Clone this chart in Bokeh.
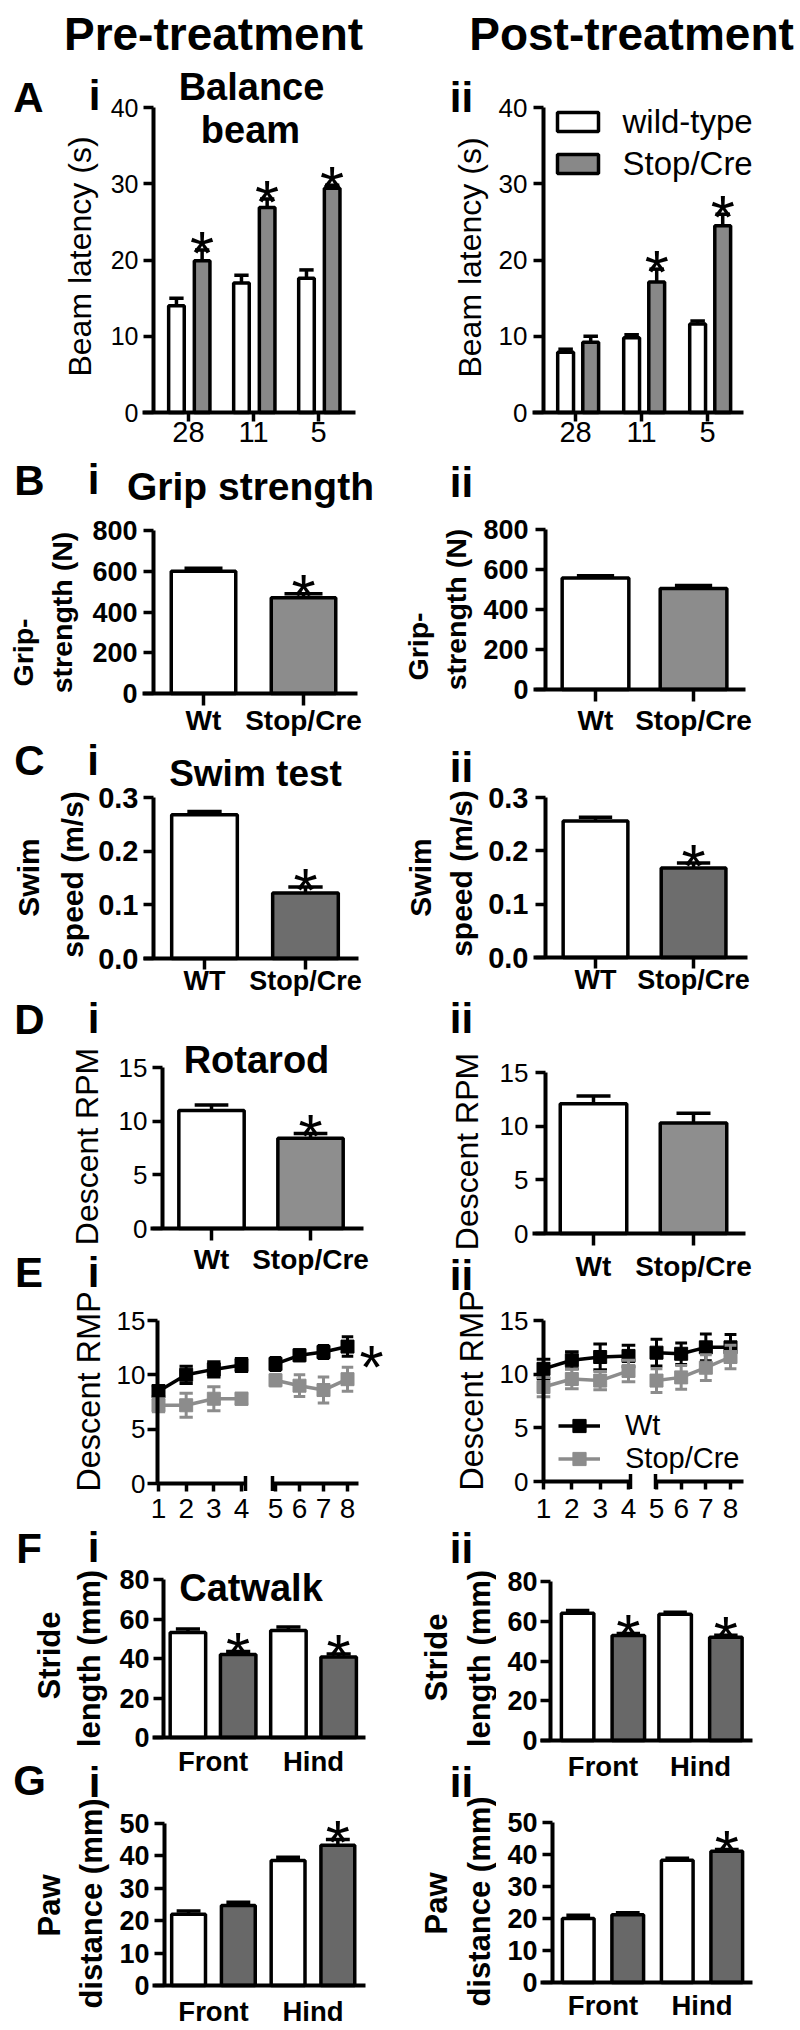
import math
from bokeh.plotting import figure
from bokeh.models import (Range1d, FixedTicker, Label, Legend, LegendItem, BoxAnnotation,
                          PrintfTickFormatter, ColumnDataSource, LinearAxis)
from bokeh.layouts import row, column
from bokeh.embed import file_html
from bokeh.resources import INLINE
from bokeh.core.properties import value

FONT = "Liberation Sans"
ROT = math.pi / 2

# ---------------- data ----------------
# A  Balance beam latency (s) on 28, 11 and 5 mm beams
beam_widths = ["28", "11", "5"]
beam_pre_wt = [14.0, 17.0, 17.6]
beam_pre_wt_sem = [1.0, 1.0, 1.1]
beam_pre_sc = [19.9, 26.9, 29.4]
beam_pre_sc_sem = [1.4, 1.1, 0.4]
beam_pre_sig = [True, True, True]
beam_post_wt = [7.9, 9.8, 11.6]
beam_post_wt_sem = [0.4, 0.4, 0.4]
beam_post_sc = [9.2, 17.1, 24.5]
beam_post_sc_sem = [0.8, 1.7, 1.5]
beam_post_sig = [False, True, True]

# B  Grip strength (N)
grip_groups = ["Wt", "Stop/Cre"]
grip_pre = [600, 470]
grip_pre_sem = [15, 20]
grip_pre_sig = [False, True]
grip_post = [557, 505]
grip_post_sem = [12, 15]
grip_post_sig = [False, False]

# C  Swim speed (m/s)
swim_groups = ["WT", "Stop/Cre"]
swim_pre = [0.268, 0.122]
swim_pre_sem = [0.006, 0.011]
swim_pre_sig = [False, True]
swim_post = [0.256, 0.168]
swim_post_sem = [0.007, 0.009]
swim_post_sig = [False, True]

# D  Rotarod descent RPM
rota_groups = ["Wt", "Stop/Cre"]
rota_pre = [11.0, 8.4]
rota_pre_sem = [0.5, 0.45]
rota_pre_sig = [False, True]
rota_post = [12.1, 10.3]
rota_post_sem = [0.7, 0.9]
rota_post_sig = [False, False]

# E  Rotarod per trial day (days 1-4 and 5-8 on a broken axis)
days = [1, 2, 3, 4, 5, 6, 7, 8]
rod_pre_wt = [8.5, 10.0, 10.5, 10.9, 11.0, 11.8, 12.1, 12.6]
rod_pre_wt_sem = [0.5, 0.8, 0.7, 0.6, 0.6, 0.5, 0.6, 0.9]
rod_pre_sc = [7.2, 7.2, 7.8, 7.8, 9.5, 9.0, 8.6, 9.6]
rod_pre_sc_sem = [0.6, 1.1, 1.1, 0.5, 0.5, 1.0, 1.2, 1.1]
rod_post_wt = [10.5, 11.3, 11.6, 11.7, 12.0, 11.9, 12.5, 12.5]
rod_post_wt_sem = [0.9, 0.8, 1.2, 1.0, 1.25, 1.0, 1.25, 1.2]
rod_post_sc = [8.8, 9.55, 9.4, 10.3, 9.4, 9.7, 10.6, 11.6]
rod_post_sc_sem = [0.9, 0.9, 0.85, 1.0, 1.1, 1.1, 1.2, 1.1]

# F  Catwalk stride length (mm)
paw_sides = ["Front", "Hind"]
stride_pre_wt = [53.2, 54.2]
stride_pre_wt_sem = [1.8, 1.8]
stride_pre_sc = [42.0, 40.8]
stride_pre_sc_sem = [1.5, 1.5]
stride_pre_sig = [True, True]
stride_post_wt = [64.0, 63.5]
stride_post_wt_sem = [1.4, 1.0]
stride_post_sc = [52.8, 52.0]
stride_post_sc_sem = [1.0, 1.0]
stride_post_sig = [True, True]

# G  Paw distance (mm)
pawd_pre_wt = [22.0, 38.6]
pawd_pre_wt_sem = [1.0, 1.0]
pawd_pre_sc = [24.7, 43.3]
pawd_pre_sc_sem = [1.0, 1.8]
pawd_pre_sig = [False, True]
pawd_post_wt = [20.0, 38.2]
pawd_post_wt_sem = [1.0, 0.6]
pawd_post_sc = [21.2, 41.0]
pawd_post_sc_sem = [0.6, 0.6]
pawd_post_sig = [False, True]

GRAY_A = "#888888"
GRAY_B = "#8c8c8c"
GRAY_C = "#6d6d6d"
GRAY_D = "#8e8e8e"
GRAY_E = "#8c8c8c"
GRAY_FG = "#686868"

STAR_FS = 62
STAR_DY = 2


# ---------------- helpers ----------------
class Panel:
    """A figure whose frame is the whole canvas.  `box` (page px) is where the
    data rectangle xr x yr lies; axes are pinned there with fixed_location."""
    def __init__(self, region, box=None, xr=(0, 1), yr=(0, 1)):
        x0, y0, x1, y1 = region
        self.region = region
        if box is None:
            box = region
        bl, bt, br, bb = box
        self.xr, self.yr = xr, yr
        kx = (xr[1] - xr[0]) / (br - bl)
        ky = (yr[1] - yr[0]) / (bb - bt)
        self.dx = lambda px: xr[0] + (px - bl) * kx
        self.dy = lambda py: yr[0] + (bb - py) * ky
        kw = dict(width=x1 - x0, height=y1 - y0,
                  x_range=Range1d(self.dx(x0), self.dx(x1)),
                  y_range=Range1d(self.dy(y1), self.dy(y0)),
                  output_backend="svg", toolbar_location=None,
                  min_border_left=0, min_border_right=0,
                  min_border_top=0, min_border_bottom=0,
                  outline_line_color=None, background_fill_color="white",
                  border_fill_color="white")
        if region == box:
            kw.update(x_axis_location=None, y_axis_location=None)
        self.p = figure(**kw)
        self.p.xgrid.visible = False
        self.p.ygrid.visible = False


def put(panel, x, y, text, size, bold=False, align="center", baseline="alphabetic", angle=0.0):
    """Place a text at page position; for 'alphabetic' y is the baseline, which is
    converted to the cap-height centre and drawn with a 'middle' baseline."""
    x0, y0, x1, y1 = panel.region
    if baseline == "alphabetic":
        y = y - 0.358 * size
        baseline = "middle"
    panel.p.add_layout(Label(
        x=x - x0, y=y1 - y, x_units="screen", y_units="screen", text=text,
        text_font=FONT, text_font_size=f"{size}px",
        text_font_style="bold" if bold else "normal", text_color="black",
        text_align=align, text_baseline=baseline, angle=angle))


def box(panel, bx0, by0, bx1, by1, fill):
    x0, y0, x1, y1 = panel.region
    panel.p.add_layout(BoxAnnotation(
        left=bx0 - x0, right=bx1 - x0, top=y1 - by0, bottom=y1 - by1,
        left_units="screen", right_units="screen", top_units="screen", bottom_units="screen",
        fill_color=fill, fill_alpha=1.0, line_color="black", line_alpha=1.0, line_width=3.5))


def style_axis(ax, fs, bold, tick_out, standoff, line=True, ticks=True):
    ax.axis_line_width = 4
    ax.axis_line_color = "black" if line else None
    ax.major_tick_line_width = 3.5
    ax.major_tick_line_color = "black" if ticks else None
    ax.major_tick_out = tick_out if ticks else 0
    ax.major_tick_in = 0
    ax.minor_tick_line_color = None
    ax.major_label_text_font = FONT
    ax.major_label_text_font_size = f"{fs}px"
    ax.major_label_text_font_style = "bold" if bold else "normal"
    ax.major_label_text_color = "black"
    ax.major_label_standoff = standoff


def setup(panel, xticks, xlabels, yticks, yfs, ybold, ystand, xfs, xbold, xstand,
          xleft_px, xtick_out=10, xticks_on=True, yfmt=None):
    p = panel.p
    xa = p.xaxis[0]
    ya = p.yaxis[0]
    ya.fixed_location = panel.xr[0]
    ya.bounds = (panel.yr[0], panel.yr[1])
    xa.fixed_location = panel.yr[0]
    xa.bounds = (panel.dx(xleft_px), panel.xr[1])
    xa.ticker = FixedTicker(ticks=list(xticks))
    if xlabels is not None:
        xa.major_label_overrides = {t: lab for t, lab in zip(xticks, xlabels)}
    ya.ticker = FixedTicker(ticks=list(yticks))
    if yfmt:
        ya.formatter = PrintfTickFormatter(format=yfmt)
    style_axis(ya, yfs, ybold, 10, ystand)
    style_axis(xa, xfs, xbold, xtick_out, xstand, True, xticks_on)


def bar_series(p, xs, tops, sems, fills, width, cap, sig=None):
    ends = [t + s for t, s in zip(tops, sems)]
    if isinstance(fills, str):
        fills = [fills] * len(xs)
    src = ColumnDataSource(dict(x=xs, top=tops, end=ends, fill=fills,
                                l=[x - cap / 2 for x in xs], r=[x + cap / 2 for x in xs]))
    p.segment(x0="x", y0="top", x1="x", y1="end", source=src, line_color="black", line_width=3.5)
    p.segment(x0="l", y0="end", x1="r", y1="end", source=src, line_color="black", line_width=3.5)
    rend = p.vbar(x="x", top="top", bottom=0, width=width, source=src,
                  fill_color="fill", line_color="black", line_width=3.5)
    if sig:
        sx = [x for x, g in zip(xs, sig) if g]
        sy = [e for e, g in zip(ends, sig) if g]
        if sx:
            p.text(x=sx, y=sy, text=["*"] * len(sx), text_font=value(FONT),
                   text_font_size=value(f"{STAR_FS}px"), text_align="center",
                   text_baseline="middle", text_color="black", y_offset=STAR_DY)
    return rend


def rod_panel(panel, wt, wt_sem, sc, sc_sem, gray, seg1_end_px, p5_px, slope2,
              seg2_px, yfs, ystand, xfs, xstand):
    """Broken x axis: days 1-4 on the main range, days 5-8 on range 'seg2'."""
    p = panel.p
    x0, y0, x1, y1 = panel.region
    v2 = lambda px: 5 + (px - p5_px) / slope2
    p.extra_x_ranges = {"seg2": Range1d(v2(x0), v2(x1))}
    ax1 = p.xaxis[0]
    ax2 = LinearAxis(x_range_name="seg2")
    p.add_layout(ax2, "below")
    ax1.fixed_location = 0
    ax2.fixed_location = 0
    ax1.bounds = (panel.xr[0], panel.dx(seg1_end_px))
    ax2.bounds = (v2(seg2_px[0]), v2(seg2_px[1]))
    ax1.ticker = FixedTicker(ticks=days[:4])
    ax2.ticker = FixedTicker(ticks=days[4:])
    for ax in (ax1, ax2):
        style_axis(ax, xfs, False, 8, xstand)
    ya = p.yaxis[0]
    ya.fixed_location = panel.xr[0]
    ya.bounds = (0, 15)
    ya.ticker = FixedTicker(ticks=[0, 5, 10, 15])
    style_axis(ya, yfs, False, 10, ystand)
    # break caps at the inner ends of the two axis pieces
    p.segment(x0=[panel.dx(seg1_end_px)], y0=[-0.69], x1=[panel.dx(seg1_end_px)], y1=[0.69],
              line_color="black", line_width=3.5)
    p.segment(x0=[v2(seg2_px[0])], y0=[-0.69], x1=[v2(seg2_px[0])], y1=[0.69],
              line_color="black", line_width=3.5, x_range_name="seg2")
    out = {}
    for key, vals, sems, col in (("wt", wt, wt_sem, "black"), ("sc", sc, sc_sem, gray)):
        rends = []
        for a, b, rn in ((0, 4, "default"), (4, 8, "seg2")):
            d = days[a:b]
            v = vals[a:b]
            lo = [x - s for x, s in zip(v, sems[a:b])]
            hi = [x + s for x, s in zip(v, sems[a:b])]
            p.segment(x0=d, y0=lo, x1=d, y1=hi, line_color=col, line_width=3, x_range_name=rn)
            p.segment(x0=[q - 0.24 for q in d], y0=hi, x1=[q + 0.24 for q in d], y1=hi,
                      line_color=col, line_width=3, x_range_name=rn)
            p.segment(x0=[q - 0.24 for q in d], y0=lo, x1=[q + 0.24 for q in d], y1=lo,
                      line_color=col, line_width=3, x_range_name=rn)
            ln = p.line(d, v, line_color=col, line_width=3.5, x_range_name=rn)
            mk = p.scatter(d, v, marker="square", size=13, fill_color=col, line_color=col,
                           x_range_name=rn)
            rends.append((ln, mk))
        out[key] = list(rends[0])
    return out


# row boundaries (page px)
Y_AB, Y_BC, Y_CD, Y_END = 454, 736, 996, 2028

# ---------------- A: balance beam ----------------
gA = list(range(len(beam_widths)))
A1 = Panel((0, 0, 400, Y_AB), (153, 107, 355, 412), (-0.538, 2.569), (0, 40))
bar_series(A1.p, [g - 0.185 for g in gA], beam_pre_wt, beam_pre_wt_sem, "white", 0.24, 0.22)
bar_series(A1.p, [g + 0.21 for g in gA], beam_pre_sc, beam_pre_sc_sem, GRAY_A, 0.24, 0.22, beam_pre_sig)
setup(A1, gA, beam_widths, [0, 10, 20, 30, 40], 25, False, 5, 29, False, 0, 142, xtick_out=9)
put(A1, 213, 50, "Pre-treatment", 46, True)
put(A1, 28, 112, "A", 42, True)
put(A1, 94, 110, "i", 42, True)
put(A1, 251, 100, "Balance", 38, True)
put(A1, 250, 143, "beam", 38, True)
put(A1, 79, 256, "Beam latency (s)", 32, False, baseline="middle", angle=ROT)

A2 = Panel((400, 0, 800, Y_AB), (543, 107, 743, 412), (-0.485, 2.545), (0, 40))
bar_series(A2.p, [g - 0.15 for g in gA], beam_post_wt, beam_post_wt_sem, "white", 0.24, 0.22)
bar_series(A2.p, [g + 0.23 for g in gA], beam_post_sc, beam_post_sc_sem, GRAY_A, 0.24, 0.22, beam_post_sig)
setup(A2, gA, beam_widths, [0, 10, 20, 30, 40], 26, False, 6, 29, False, 0, 532, xtick_out=9)
put(A2, 631, 50, "Post-treatment", 46, True)
put(A2, 461, 112, "ii", 42, True)
put(A2, 469, 257, "Beam latency (s)", 32, False, baseline="middle", angle=ROT)
box(A2, 557, 112, 598, 131, "white")
box(A2, 557, 154, 598, 173, GRAY_A)
put(A2, 622, 121, "wild-type", 33, False, align="left", baseline="middle")
put(A2, 622, 163, "Stop/Cre", 33, False, align="left", baseline="middle")

# ---------------- B: grip strength ----------------
B1 = Panel((0, Y_AB, 400, Y_BC), (153, 530, 357, 693), (-0.5, 1.54), (0, 800))
bar_series(B1.p, [0, 1], grip_pre, grip_pre_sem, ["white", GRAY_B], 0.645, 0.38, grip_pre_sig)
setup(B1, [0, 1], grip_groups, [0, 200, 400, 600, 800], 27, True, 6, 28, True, -1, 142, xtick_out=12)
put(B1, 29, 495, "B", 42, True)
put(B1, 93, 494, "i", 42, True)
put(B1, 250, 500, "Grip strength", 39, True)
put(B1, 22, 652, "Grip-", 28.5, True, baseline="middle", angle=ROT)
put(B1, 61, 612, "strength (N)", 28.5, True, baseline="middle", angle=ROT)

B2 = Panel((400, Y_AB, 800, Y_BC), (545, 529, 745, 689), (-0.51, 1.53), (0, 800))
bar_series(B2.p, [0, 1], grip_post, grip_post_sem, ["white", GRAY_B], 0.68, 0.38, grip_post_sig)
setup(B2, [0, 1], grip_groups, [0, 200, 400, 600, 800], 27, True, 7, 28, True, 3, 533, xtick_out=12)
put(B2, 461, 497, "ii", 42, True)
put(B2, 417, 646, "Grip-", 28.5, True, baseline="middle", angle=ROT)
put(B2, 455, 609, "strength (N)", 28.5, True, baseline="middle", angle=ROT)

# ---------------- C: swim test ----------------
C1 = Panel((0, Y_BC, 400, Y_CD), (153, 797, 358, 958), (-0.505, 1.525), (0, 0.3))
bar_series(C1.p, [0, 1], swim_pre, swim_pre_sem, ["white", GRAY_C], 0.65, 0.34, swim_pre_sig)
setup(C1, [0, 1], swim_groups, [0, 0.1, 0.2, 0.3], 29, True, 5, 27, True, -4, 143, xtick_out=11,
      yfmt="%.1f")
put(C1, 29, 775, "C", 42, True)
put(C1, 92.5, 775, "i", 42, True)
put(C1, 255, 786, "Swim test", 37, True)
put(C1, 28, 877, "Swim", 30, True, baseline="middle", angle=ROT)
put(C1, 72, 874, "speed (m/s)", 30, True, baseline="middle", angle=ROT)

C2 = Panel((400, Y_BC, 800, Y_CD), (545, 797, 747, 957), (-0.51, 1.55), (0, 0.3))
bar_series(C2.p, [0, 1], swim_post, swim_post_sem, ["white", GRAY_C], 0.66, 0.34, swim_post_sig)
setup(C2, [0, 1], swim_groups, [0, 0.1, 0.2, 0.3], 29, True, 7, 27, True, -4, 533, xtick_out=11,
      yfmt="%.1f")
put(C2, 461, 782, "ii", 42, True)
put(C2, 420, 877, "Swim", 30, True, baseline="middle", angle=ROT)
put(C2, 461, 873, "speed (m/s)", 30, True, baseline="middle", angle=ROT)

# ---------------- D: rotarod ----------------
D1 = Panel((110, Y_CD, 400, 1290), (162, 1067, 363, 1228), (-0.495, 1.535), (0, 15))
bar_series(D1.p, [0, 1], rota_pre, rota_pre_sem, ["white", GRAY_D], 0.66, 0.34, rota_pre_sig)
setup(D1, [0, 1], rota_groups, [0, 5, 10, 15], 26, False, 5, 28, True, 3, 150, xtick_out=12)
put(D1, 256, 1073, "Rotarod", 38, True)

D2 = Panel((496, Y_CD, 800, 1290), (545, 1072, 745, 1233), (-0.48, 1.52), (0, 15))
bar_series(D2.p, [0, 1], rota_post, rota_post_sem, ["white", GRAY_D], 0.665, 0.34, rota_post_sig)
setup(D2, [0, 1], rota_groups, [0, 5, 10, 15], 26, False, 7, 28, True, 5, 532, xtick_out=12)

# ---------------- E: rotarod by day (broken axis) ----------------
E1 = Panel((110, 1290, 400, 1530), (157, 1320, 241, 1483), (0.964, 4.0), (0, 15))
rod_panel(E1, rod_pre_wt, rod_pre_wt_sem, rod_pre_sc, rod_pre_sc_sem, GRAY_E,
          245, 275, 24.0, (272, 358), 26, 2, 28, 7)
put(E1, 371, 1366, "*", STAR_FS, False, baseline="middle")

E2 = Panel((496, 1290, 800, 1530), (543, 1320, 628, 1481), (1.0, 4.0), (0, 15))
r2 = rod_panel(E2, rod_post_wt, rod_post_wt_sem, rod_post_sc, rod_post_sc_sem, GRAY_E,
               630, 656, 24.67, (655, 743), 26, 5, 28, 9)
legE = Legend(items=[LegendItem(label="Wt", renderers=r2["wt"]),
                     LegendItem(label="Stop/Cre", renderers=r2["sc"])],
              location=(558 - 496, 1530 - 1474.5), orientation="vertical",
              glyph_width=42, glyph_height=33, label_height=33, label_standoff=25,
              spacing=0, padding=0, margin=0, border_line_color=None,
              background_fill_alpha=0, label_text_font=FONT, label_text_font_size="29px",
              label_text_color="black")
E2.p.add_layout(legE)

# ---------------- F: catwalk stride length ----------------
gF = [0, 1]
F1 = Panel((110, 1530, 400, 1786), (163, 1579, 365, 1737), (-0.493, 1.517), (0, 80))
bar_series(F1.p, [g - 0.25 for g in gF], stride_pre_wt, stride_pre_wt_sem, "white", 0.353, 0.24)
bar_series(F1.p, [g + 0.25 for g in gF], stride_pre_sc, stride_pre_sc_sem, GRAY_FG, 0.353, 0.24, stride_pre_sig)
setup(F1, gF, paw_sides, [0, 20, 40, 60, 80], 27, True, 4, 27.5, True, 8, 152, xticks_on=False)
put(F1, 250.5, 1601, "Catwalk", 38, True)

F2 = Panel((496, 1530, 800, 1786), (550, 1581, 752, 1740), (-0.538, 1.533), (0, 80))
bar_series(F2.p, [g - 0.26 for g in gF], stride_post_wt, stride_post_wt_sem, "white", 0.333, 0.24)
bar_series(F2.p, [g + 0.26 for g in gF], stride_post_sc, stride_post_sc_sem, GRAY_FG, 0.333, 0.24, stride_post_sig)
setup(F2, gF, paw_sides, [0, 20, 40, 60, 80], 27, True, 3, 27.5, True, 10, 540, xticks_on=False)

# ---------------- G: paw distance ----------------
G1 = Panel((110, 1786, 400, Y_END), (164, 1823, 365, 1985), (-0.492, 1.528), (0, 50))
bar_series(G1.p, [g - 0.25 for g in gF], pawd_pre_wt, pawd_pre_wt_sem, "white", 0.34, 0.24)
bar_series(G1.p, [g + 0.25 for g in gF], pawd_pre_sc, pawd_pre_sc_sem, GRAY_FG, 0.34, 0.24, pawd_pre_sig)
setup(G1, gF, paw_sides, [0, 10, 20, 30, 40, 50], 27, True, 5, 27.5, True, 10, 152, xticks_on=False)

G2 = Panel((496, 1786, 800, Y_END), (552, 1822, 752, 1982), (-0.51, 1.51), (0, 50))
bar_series(G2.p, [g - 0.25 for g in gF], pawd_post_wt, pawd_post_wt_sem, "white", 0.32, 0.24)
bar_series(G2.p, [g + 0.25 for g in gF], pawd_post_sc, pawd_post_sc_sem, GRAY_FG, 0.32, 0.24, pawd_post_sig)
setup(G2, gF, paw_sides, [0, 10, 20, 30, 40, 50], 27, True, 5, 27.5, True, 7, 540, xticks_on=False)

# ---------------- label strips (panel letters and y titles) ----------------
SL = Panel((0, Y_CD, 110, Y_END))
put(SL, 29, 1034, "D", 42, True)
put(SL, 93, 1033, "i", 42, True)
put(SL, 86, 1146, "Descent RPM", 32, False, baseline="middle", angle=ROT)
put(SL, 28.5, 1287, "E", 42, True)
put(SL, 93, 1287, "i", 42, True)
put(SL, 88, 1391, "Descent RMP", 32.5, False, baseline="middle", angle=ROT)
put(SL, 28.5, 1563, "F", 42, True)
put(SL, 93, 1562, "i", 42, True)
put(SL, 49, 1655, "Stride", 31, True, baseline="middle", angle=ROT)
put(SL, 89, 1658, "length (mm)", 31, True, baseline="middle", angle=ROT)
put(SL, 29, 1795, "G", 42, True)
put(SL, 94, 1797, "i", 42, True)
put(SL, 49, 1905, "Paw", 31, True, baseline="middle", angle=ROT)
put(SL, 91, 1903, "distance (mm)", 31, True, baseline="middle", angle=ROT)

SR = Panel((400, Y_CD, 496, Y_END))
put(SR, 461, 1033, "ii", 42, True)
put(SR, 466, 1151, "Descent RPM", 32, False, baseline="middle", angle=ROT)
put(SR, 461, 1290, "ii", 42, True)
put(SR, 471, 1390, "Descent RMP", 32.5, False, baseline="middle", angle=ROT)
put(SR, 461, 1563, "ii", 42, True)
put(SR, 436, 1657, "Stride", 31, True, baseline="middle", angle=ROT)
put(SR, 479, 1658, "length (mm)", 31, True, baseline="middle", angle=ROT)
put(SR, 461, 1797, "ii", 42, True)
put(SR, 436, 1903, "Paw", 31, True, baseline="middle", angle=ROT)
put(SR, 479, 1901, "distance (mm)", 31, True, baseline="middle", angle=ROT)

# ---------------- layout ----------------
bottom = row(SL.p, column(D1.p, E1.p, F1.p, G1.p), SR.p, column(D2.p, E2.p, F2.p, G2.p))
layout = column(row(A1.p, A2.p), row(B1.p, B2.p), row(C1.p, C2.p), bottom)

open("out.html", "w").write(file_html(layout, INLINE, title="Motor tests"))
